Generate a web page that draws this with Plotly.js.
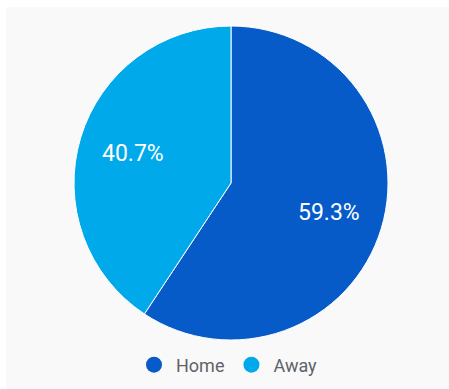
<!DOCTYPE html>
<html>
<head>
<meta charset="utf-8">
<script src="https://cdn.plot.ly/plotly-3.0.1.min.js"></script>
<style>
html,body{margin:0;padding:0;background:#ffffff;}
#chart{position:absolute;left:6px;top:7px;width:443px;height:382px;}
</style>
</head>
<body>
<div id="chart"></div>
<script>
const categories = ["Home", "Away"];
const values = [59.3, 40.7];
const colors = ["#065bc9", "#00a9e9"];

const W = 443, H = 382;
const dom = {x: [68 / W, 382 / W], y: [1 - 333 / H, 1 - 19 / H]};

const pieTrace = {
  type: "pie",
  labels: categories,
  values: values,
  sort: false,
  direction: "clockwise",
  rotation: 0,
  domain: dom,
  marker: {colors: colors, line: {color: "#ffffff", width: 1}},
  textinfo: "none",
  showlegend: false,
  hoverinfo: "none"
};

const legendTraces = categories.map((c, i) => ({
  type: "scatter",
  mode: "markers",
  x: [null],
  y: [null],
  name: c,
  marker: {color: colors[i], size: 16, symbol: "circle"},
  showlegend: true,
  hoverinfo: "none"
}));

// percentage labels placed at the middle angle of each slice
const total = values.reduce((a, b) => a + b, 0);
const cx = (dom.x[0] + dom.x[1]) / 2, cy = (dom.y[0] + dom.y[1]) / 2;
const rx = (dom.x[1] - dom.x[0]) / 2, ry = (dom.y[1] - dom.y[0]) / 2;
let cum = 0;
const annotations = values.map((v) => {
  const mid = (cum + v / 2) / total * 2 * Math.PI;
  cum += v;
  const k = 0.65;
  return {
    xref: "paper", yref: "paper",
    x: cx + k * rx * Math.sin(mid),
    y: cy + k * ry * Math.cos(mid),
    xanchor: "center", yanchor: "middle",
    text: (v / total * 100).toFixed(1) + "%",
    showarrow: false,
    font: {color: "#ffffff", size: 23, family: "Roboto, sans-serif"}
  };
});

const layout = {
  width: W,
  height: H,
  margin: {l: 0, r: 0, t: 0, b: 0},
  paper_bgcolor: "#f9f9f9",
  plot_bgcolor: "rgba(0,0,0,0)",
  xaxis: {visible: false},
  yaxis: {visible: false},
  annotations: annotations,
  showlegend: true,
  legend: {
    orientation: "h",
    x: 0.5, xanchor: "center",
    y: 0.063, yanchor: "middle",
    font: {size: 18, color: "#5f6368", family: "Roboto, sans-serif"},
    itemsizing: "trace",
    itemwidth: 34,
    bgcolor: "rgba(0,0,0,0)"
  }
};

Plotly.newPlot("chart", [pieTrace, ...legendTraces], layout, {displayModeBar: false, staticPlot: true});
</script>
</body>
</html>
